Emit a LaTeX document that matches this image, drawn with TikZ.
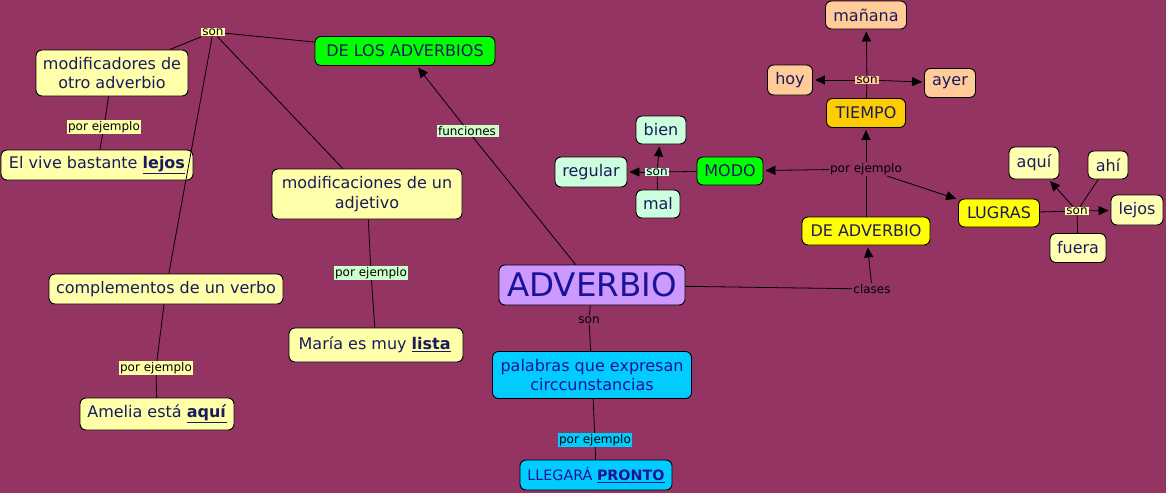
\documentclass[tikz,border=0pt]{standalone}
\usepackage{fontspec}
\setmainfont{DejaVu Sans}
\usetikzlibrary{arrows.meta}
\definecolor{bgc}{HTML}{943462}
\definecolor{txt}{HTML}{1A1A5E}
\definecolor{advtxt}{HTML}{1C1296}
\definecolor{ylw}{HTML}{FFFFAA}
\definecolor{ylw2}{HTML}{FFFFB4}
\definecolor{grn}{HTML}{00FF00}
\definecolor{mint}{HTML}{CCFFDD}
\definecolor{lgrn}{HTML}{CCFFCC}
\definecolor{peach}{HTML}{FFCC99}
\definecolor{orng}{HTML}{FFCC00}
\definecolor{yel}{HTML}{FFFF00}
\definecolor{lav}{HTML}{CC99FF}
\definecolor{cyn}{HTML}{00CCFF}
\newcommand{\bul}[1]{\underline{\textbf{#1}}}
\begin{document}
\begin{tikzpicture}[x=1pt,y=-1pt,
  box/.style={draw=black, line width=0.9pt, rounded corners=6pt, align=center,
    inner sep=0pt, text=txt, font=\fontsize{16}{19.5}\selectfont},
  lbl/.style={inner sep=1pt, text=black, font=\fontsize{12}{14}\selectfont},
  conn/.style={draw=black, line width=0.8pt},
  arr/.style={conn, -{Triangle[length=10pt,width=9pt]}}]
\fill[bgc] (0,0) rectangle (1166,493);
\useasboundingbox (0,0) rectangle (1166,493);

% nodes
\node[box, fill=grn, minimum width=180pt, minimum height=29pt] (dla) at (405,51) {DE LOS ADVERBIOS};
\node[box, fill=ylw, minimum width=152pt, minimum height=46pt] (modad) at (112,73) {modificadores de\\otro adverbio};
\node[box, fill=ylw, minimum width=192pt, minimum height=30pt] (vive) at (97,165) {El vive bastante \bul{lejos}};
\node[box, fill=ylw, minimum width=190pt, minimum height=50pt] (modadj) at (367,194) {modificaciones de un\\adjetivo};
\node[box, fill=ylw, minimum width=234pt, minimum height=30pt] (compl) at (166,289) {complementos de un verbo};
\node[box, fill=ylw, minimum width=154pt, minimum height=32pt] (amelia) at (157,414) {Amelia está \bul{aquí}};
\node[box, fill=ylw, minimum width=174pt, minimum height=34pt] (maria) at (376,345) {María es muy \bul{lista}\,};
\node[box, fill=lav, text=advtxt, minimum width=186pt, minimum height=40pt, font=\fontsize{32.5}{38}\selectfont] (adv) at (592,285) {ADVERBIO};
\node[box, fill=cyn, text=advtxt, minimum width=199pt, minimum height=47pt] (pal) at (592,375) {palabras que expresan\\circcunstancias};
\node[box, fill=cyn, text=advtxt, minimum width=152pt, minimum height=30pt, font=\fontsize{14.3}{17}\selectfont] (lleg) at (596,475) {LLEGARÁ \bul{PRONTO}};
\node[box, fill=yel, minimum width=128pt, minimum height=28pt] (deadv) at (866,231) {DE ADVERBIO};
\node[box, fill=orng, minimum width=79pt, minimum height=29pt] (tiempo) at (866,113) {TIEMPO};
\node[box, fill=peach, minimum width=81pt, minimum height=28pt] (manana) at (866,15) {mañana};
\node[box, fill=peach, minimum width=45pt, minimum height=30pt] (hoy) at (790,80) {hoy};
\node[box, fill=peach, minimum width=51pt, minimum height=29pt] (ayer) at (950,83) {ayer};
\node[box, fill=grn, minimum width=66pt, minimum height=28pt] (modo) at (730,171) {MODO};
\node[box, fill=mint, minimum width=50pt, minimum height=28pt] (bien) at (661,130) {bien};
\node[box, fill=mint, minimum width=72pt, minimum height=30pt] (regular) at (591,172) {regular};
\node[box, fill=mint, minimum width=44pt, minimum height=28pt] (mal) at (658,204) {mal};
\node[box, fill=yel, minimum width=81pt, minimum height=28pt] (lugras) at (999,213) {LUGRAS};
\node[box, fill=ylw2, minimum width=50pt, minimum height=32pt] (aqui) at (1034,163) {aquí};
\node[box, fill=ylw2, minimum width=40pt, minimum height=28pt] (ahi) at (1108,165) {ahí};
\node[box, fill=ylw2, minimum width=52pt, minimum height=30pt] (lejos) at (1137,210) {lejos};
\node[box, fill=ylw2, minimum width=56pt, minimum height=29pt] (fuera) at (1078,248) {fuera};

% labels
\node[lbl, fill=ylw] (son1) at (213,32) {son};
\node[lbl, fill=ylw] (pe1) at (104,127) {por ejemplo};
\node[lbl, fill=lgrn] (pe2) at (371,273) {por ejemplo};
\node[lbl, fill=ylw] (pe3) at (156,368) {por ejemplo};
\node[lbl, fill=lgrn] (func) at (468,131) {funciones\,};
\node[lbl] (son2) at (589,320) {son};
\node[lbl, fill=cyn] (pe4) at (595,440) {por ejemplo};
\node[lbl] (clases) at (872,289) {clases};
\node[lbl] (pe5) at (866,169) {por ejemplo};
\node[lbl, fill=peach] (son3) at (867,80) {son};
\node[lbl, fill=mint] (son4) at (657,172) {son};
\node[lbl, fill=ylw] (son5) at (1077,211) {son};

% connectors
\draw[conn] (adv) -- (func);
\draw[arr, shorten >=2pt] (func) -- (dla);
\draw[conn] (son1) -- (dla);
\draw[conn] (son1) -- (modad);
\draw[conn] (son1) -- (modadj);
\draw[conn] (son1) -- (compl);
\draw[conn] (modad) -- (pe1);
\draw[conn] (pe1) -- (vive);
\draw[conn] (modadj) -- (pe2);
\draw[conn] (pe2) -- (maria);
\draw[conn] (compl) -- (pe3);
\draw[conn] (pe3) -- (amelia);
\draw[conn] (adv) -- (son2);
\draw[conn] (son2) -- (pal);
\draw[conn] (pal) -- (pe4);
\draw[conn] (pe4) -- (lleg);
\draw[conn] (adv) -- (clases);
\draw[arr, shorten >=2pt] (clases) -- (deadv);
\draw[conn] (deadv) -- (pe5);
\draw[arr, shorten >=2pt] (pe5) -- (tiempo);
\draw[arr, shorten >=2pt] (pe5) -- (modo);
\draw[arr, shorten >=2pt] (pe5) -- (lugras);
\draw[conn] (tiempo) -- (son3);
\draw[arr, shorten >=2pt] (son3) -- (hoy);
\draw[arr, shorten >=2pt] (son3) -- (ayer);
\draw[arr, shorten >=2pt] (son3) -- (manana);
\draw[conn] (modo) -- (son4);
\draw[arr, shorten >=2pt] (son4) -- (regular);
\draw[arr, shorten >=2pt] (son4) -- (bien);
\draw[conn] (son4) -- (mal);
\draw[conn] (lugras) -- (son5);
\draw[arr, shorten >=2pt] (son5) -- (aqui);
\draw[arr, shorten >=2pt] (son5) -- (lejos);
\draw[conn] (son5) -- (ahi);
\draw[conn] (son5) -- (fuera);
\end{tikzpicture}
\end{document}
